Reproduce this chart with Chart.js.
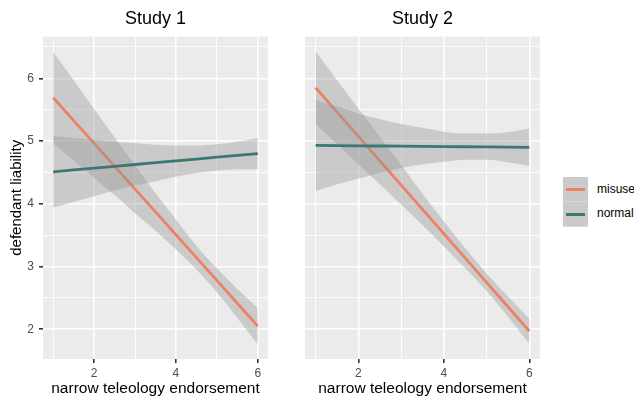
<!DOCTYPE html>
<html>
<head>
<meta charset="utf-8">
<script src="https://cdn.jsdelivr.net/npm/chart.js@4.4.1/dist/chart.umd.min.js"></script>
<style>
  body { margin: 0; background: #fff; width: 634px; height: 396px; overflow: hidden; position: relative; font-family: 'Liberation Sans', Arial, sans-serif; }
  canvas { position: absolute; top: 0; }
  #c1 { left: 0; }
  #c2 { left: 290px; }
  .legend { position: absolute; left: 563px; top: 177px; }
  .key { position: relative; width: 25px; height: 24px; background: #cacaca; border-bottom: 1px solid #d8d8d8; }
  .key span { position: absolute; left: 3px; right: 3px; top: 11px; height: 3px; }
  .lab { position: absolute; left: 34px; font-size: 12px; color: #000; white-space: nowrap; }
</style>
</head>
<body>
<canvas id="c1" width="280" height="396"></canvas>
<canvas id="c2" width="262" height="396"></canvas>
<div class="legend">
  <div class="key"><span id="k1"></span></div>
  <div class="key"><span id="k2"></span></div>
  <div class="lab" style="top:5px">misuse</div>
  <div class="lab" style="top:29px">normal</div>
</div>
<script>
// x positions of the fitted lines / ribbons
const xs = [1, 1.5, 2, 2.5, 3, 3.5, 4, 4.5, 5, 5.5, 6];
const groups = ['misuse', 'normal'];
const xTicks = [2, 4, 6];
const yTicks = [2, 3, 4, 5, 6];

// Study 1
const s1Misuse      = [5.690, 5.326, 4.962, 4.598, 4.234, 3.870, 3.506, 3.142, 2.778, 2.414, 2.050];
const s1MisuseUpper = [6.42, 5.97, 5.51, 5.06, 4.61, 4.17, 3.75, 3.33, 2.97, 2.64, 2.34];
const s1MisuseLower = [4.96, 4.69, 4.41, 4.14, 3.85, 3.57, 3.27, 2.95, 2.59, 2.18, 1.76];
const s1Normal      = [4.510, 4.539, 4.568, 4.597, 4.626, 4.655, 4.684, 4.713, 4.742, 4.771, 4.800];
const s1NormalUpper = [5.08, 5.05, 5.02, 4.99, 4.97, 4.94, 4.93, 4.93, 4.95, 4.99, 5.05];
const s1NormalLower = [3.94, 4.03, 4.12, 4.21, 4.29, 4.36, 4.43, 4.49, 4.53, 4.55, 4.55];

// Study 2
const s2Misuse      = [5.850, 5.462, 5.074, 4.686, 4.298, 3.910, 3.522, 3.134, 2.746, 2.358, 1.970];
const s2MisuseUpper = [6.43, 5.97, 5.52, 5.07, 4.62, 4.16, 3.72, 3.29, 2.89, 2.52, 2.17];
const s2MisuseLower = [5.27, 4.95, 4.63, 4.31, 3.99, 3.66, 3.32, 2.97, 2.61, 2.20, 1.77];
const s2Normal      = [4.930, 4.927, 4.924, 4.921, 4.918, 4.915, 4.912, 4.909, 4.906, 4.903, 4.900];
const s2NormalUpper = [5.66, 5.55, 5.44, 5.35, 5.27, 5.21, 5.15, 5.12, 5.12, 5.14, 5.20];
const s2NormalLower = [4.20, 4.31, 4.40, 4.49, 4.57, 4.63, 4.67, 4.70, 4.70, 4.66, 4.60];

const X_MIN = 0.75, X_MAX = 6.25;
const Y_MIN = 1.525, Y_MAX = 6.665;

const colors = { misuse: '#ed8164', normal: '#3b7875' };
const bandFill = 'rgba(153,153,153,0.4)';

document.getElementById('k1').style.background = colors.misuse;
document.getElementById('k2').style.background = colors.normal;

Chart.defaults.font.family = "'Liberation Sans', Arial, sans-serif";
Chart.defaults.color = '#4d4d4d';

const pts = arr => xs.map((x, i) => ({ x: x, y: arr[i] }));

// grey panel behind the plot
const panelBg = {
    id: 'panelBg',
    beforeDraw(chart) {
        const a = chart.chartArea;
        chart.ctx.save();
        chart.ctx.fillStyle = '#ebebeb';
        chart.ctx.fillRect(a.left, a.top, a.right - a.left, a.bottom - a.top);
        chart.ctx.restore();
    }
};

function makeDatasets(mis, misU, misL, nor, norU, norL) {
    const band = (data, ord, fill) => ({
        data: pts(data), borderWidth: 0, pointRadius: 0, fill: fill,
        backgroundColor: bandFill, cubicInterpolationMode: 'monotone', order: ord
    });
    const line = (label, data, ord) => ({
        label: label, data: pts(data), borderColor: colors[label], borderWidth: 2.8,
        pointRadius: 0, fill: false, order: ord
    });
    return [
        band(misU, 4, false),
        band(misL, 4, '-1'),
        line(groups[0], mis, 3),
        band(norU, 2, false),
        band(norL, 2, '-1'),
        line(groups[1], nor, 1)
    ];
}

const isMajorX = v => xTicks.includes(v);
const isMajorY = v => yTicks.includes(v);

function makeOptions(title, showY) {
    return {
        responsive: false,
        animation: false,
        layout: { padding: { left: 0, right: 12, top: 0, bottom: 0 } },
        plugins: {
            legend: { display: false },
            tooltip: { enabled: false },
            filler: { drawTime: 'beforeDatasetDraw' },
            title: {
                display: true, text: title, fullSize: false, color: '#000',
                font: { size: 18, weight: 'normal', lineHeight: 1.2 },
                padding: { top: 8, bottom: 7 }
            }
        },
        scales: {
            x: {
                type: 'linear', min: X_MIN, max: X_MAX,
                afterFit: s => { s.height = 37; },
                border: { display: false },
                ticks: {
                    stepSize: 1, includeBounds: false, maxRotation: 0, autoSkip: false,
                    font: { size: 12 }, padding: 3,
                    callback: v => isMajorX(v) ? String(v) : ''
                },
                grid: {
                    color: '#ffffff', tickLength: 4,
                    lineWidth: c => isMajorX(c.tick.value) ? 1.6 : 0.8,
                    tickColor: c => isMajorX(c.tick.value) ? '#333333' : 'rgba(0,0,0,0)'
                },
                title: {
                    display: true, text: 'narrow teleology endorsement', color: '#000',
                    font: { size: 15.5, lineHeight: 1 }, padding: { top: 0, bottom: 0 }
                }
            },
            y: {
                type: 'linear', min: Y_MIN, max: Y_MAX,
                afterFit: s => { s.width = showY ? 43 : 15; },
                border: { display: false },
                ticks: {
                    display: showY, stepSize: 0.5, includeBounds: false,
                    font: { size: 12 }, padding: 5,
                    callback: v => isMajorY(v) ? String(v) : ''
                },
                grid: {
                    color: '#ffffff', drawTicks: showY, tickLength: 4,
                    lineWidth: c => isMajorY(c.tick.value) ? 1.6 : 0.8,
                    tickColor: c => isMajorY(c.tick.value) ? '#333333' : 'rgba(0,0,0,0)'
                },
                title: {
                    display: showY, text: 'defendant liability', color: '#000',
                    font: { size: 15, lineHeight: 1.2 }, padding: { top: 8, bottom: 0 }
                }
            }
        }
    };
}

new Chart(document.getElementById('c1'), {
    type: 'line',
    data: { datasets: makeDatasets(s1Misuse, s1MisuseUpper, s1MisuseLower, s1Normal, s1NormalUpper, s1NormalLower) },
    options: makeOptions('Study 1', true),
    plugins: [panelBg]
});

new Chart(document.getElementById('c2'), {
    type: 'line',
    data: { datasets: makeDatasets(s2Misuse, s2MisuseUpper, s2MisuseLower, s2Normal, s2NormalUpper, s2NormalLower) },
    options: makeOptions('Study 2', false),
    plugins: [panelBg]
});
</script>
</body>
</html>
